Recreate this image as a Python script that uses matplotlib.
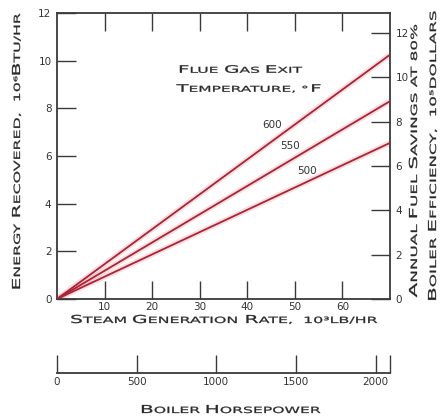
import matplotlib
matplotlib.use("Agg")
import matplotlib.pyplot as plt
import numpy as np
from matplotlib.font_manager import FontProperties, findfont, get_font
from matplotlib.patches import PathPatch
from matplotlib.path import Path
from matplotlib.textpath import TextPath
from matplotlib.transforms import Affine2D

# steam generation rate, 10^3 lb/hr
steam = [0, 70]
# energy recovered, 10^6 Btu/hr, per flue gas exit temperature
temps = ["600", "550", "500"]
energy = {"600": [0, 10.25], "550": [0, 8.3], "500": [0, 6.55]}
label_at = {"600": (45.2, 7.3), "550": (49.0, 6.4), "500": (52.6, 5.35)}

x_ticks = [10, 20, 30, 40, 50, 60]
y_ticks = [0, 2, 4, 6, 8, 10, 12]
r_ticks = [0, 2, 4, 6, 8, 10, 12]
hp_ticks = [0, 500, 1000, 1500, 2000]
hp_max = 2090
r_max = 12.9

INK = "#3a3a3a"
TXT = "#2a2a2a"
RED = "#a82536"
plt.rcParams["font.family"] = ["DejaVu Sans"]

fig = plt.figure(figsize=(4.46, 4.17), dpi=100)
W, H = 446, 417
ax = fig.add_axes([57 / W, 1 - 299 / H, 333 / W, 286 / H])

for t in temps:
    ax.plot(steam, energy[t], color="#f4a0a8", lw=4.0, alpha=0.35,
            solid_capstyle="butt", zorder=2)
    ax.plot(steam, energy[t], color=RED, lw=1.3, zorder=3)
    lx, ly = label_at[t]
    ax.text(lx, ly, t, fontsize=7.5, color="#333", ha="center",
            va="center", zorder=4)

ax.set_xlim(0, 70)
ax.set_ylim(0, 12)
ax.set_xticks(x_ticks)
ax.set_yticks(y_ticks)
ax.tick_params(direction="in", length=13, width=1.0, color=INK,
               labelsize=7.5, labelcolor="#333", top=True, pad=2)
ax.tick_params(axis="y", length=14, pad=4)
for s in ax.spines.values():
    s.set_color(INK)
    s.set_linewidth(1.3)

ar = ax.twinx()
ar.set_ylim(0, r_max)
ar.set_yticks(r_ticks)
ar.tick_params(direction="in", length=14, width=1.0, color=INK,
               labelsize=7.5, labelcolor="#333", pad=4)
for s in ar.spines.values():
    s.set_visible(False)

# boiler horsepower scale
ah = fig.add_axes([57 / W, 1 - 373 / H, 333 / W, 0.001])
ah.set_xlim(0, hp_max)
ah.set_xticks(hp_ticks + [hp_max])
ah.set_xticklabels([str(v) for v in hp_ticks] + [""])
ah.set_yticks([])
ah.tick_params(direction="in", length=13, width=1.0, color=INK,
               labelsize=7.5, labelcolor="#333", pad=3)
for k, s in ah.spines.items():
    s.set_visible(k == "bottom")
ah.spines["bottom"].set_color(INK)
ah.spines["bottom"].set_linewidth(1.3)
ah.patch.set_visible(False)

fp = FontProperties(family="DejaVu Sans")
ft = get_font(findfont(fp))


def _adv(seg, size):
    ft.set_size(size, 72)
    return sum(ft.load_char(ord(c)).linearHoriAdvance
               for c in seg) / 65536.0


def smallcaps(cx, cy, s, cap=8.0, width=None, rot=0):
    # fake small caps drawn as a path, centred at pixel (cx, cy)
    big = cap / 0.729
    small = big * 0.78
    segs = []
    for ch in s:
        sz = big if ch.isupper() else small
        if segs and segs[-1][1] == sz:
            segs[-1][0] += ch.upper()
        else:
            segs.append([ch.upper(), sz])
    verts, codes = [], []
    x = 0.0
    for seg, sz in segs:
        if seg.strip():
            tp = TextPath((x, 0), seg, size=sz, prop=fp)
            verts.append(tp.vertices)
            codes.append(tp.codes)
        x += _adv(seg, sz)
    path = Path(np.concatenate(verts), np.concatenate(codes))
    sx = width / x if width else 1.0
    tr = (Affine2D().translate(-x / 2, -cap / 2).scale(sx, 1)
          .rotate_deg(rot).translate(cx, H - cy))
    fig.add_artist(PathPatch(path, transform=tr, fc=TXT, ec=TXT,
                             lw=0.2))


smallcaps(240, 69, "Flue Gas Exit", cap=7.5, width=124)
smallcaps(249, 88, "Temperature, °F", cap=7.5, width=145)
smallcaps(224, 319, "Steam Generation Rate,  10³lb/hr", cap=8.0,
          width=308)
smallcaps(230, 409, "Boiler Horsepower", cap=8.0, width=180)
smallcaps(16, 152, "Energy Recovered,  10⁶Btu/hr", cap=8.0, width=277,
          rot=90)
smallcaps(413, 160, "Annual Fuel Savings at 80%", cap=8.0, width=275,
          rot=90)
smallcaps(432, 157, "Boiler Efficiency,  10⁵dollars", cap=8.0,
          width=290, rot=90)

fig.savefig("out.png", dpi=100)
